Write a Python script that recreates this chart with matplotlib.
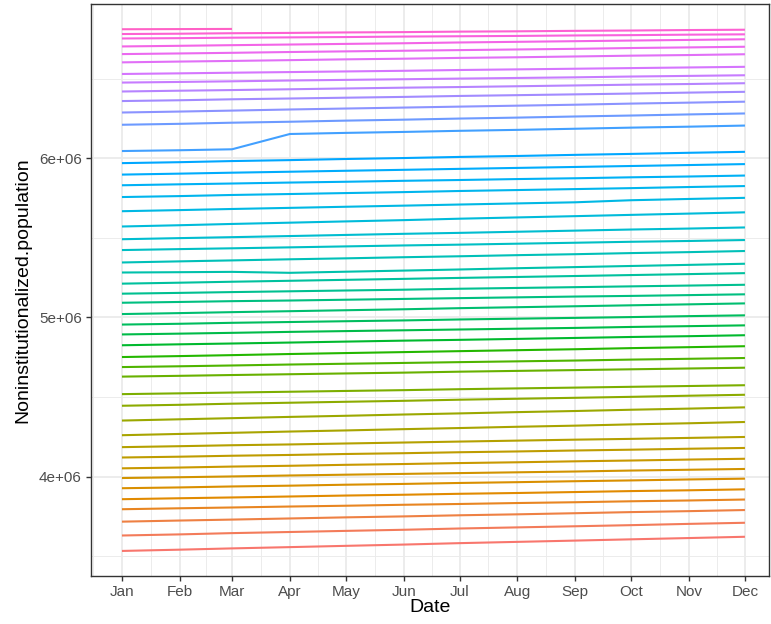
import datetime as dt
import numpy as np
import matplotlib
matplotlib.use("Agg")
import matplotlib.pyplot as plt
import matplotlib.dates as mdates
from matplotlib.ticker import FixedLocator, FuncFormatter

# Month axis (first of each month, plotted on a common non-leap year)
months = ["Jan", "Feb", "Mar", "Apr", "May", "Jun",
          "Jul", "Aug", "Sep", "Oct", "Nov", "Dec"]
years = list(range(1976, 2023))

# Noninstitutionalized population, thousands, Jan..Dec of each year
y1976 = [3533, 3541, 3549, 3557, 3565, 3573, 3582, 3590, 3598, 3606, 3614, 3622]
y1977 = [3630, 3637, 3645, 3652, 3659, 3666, 3674, 3681, 3688, 3695, 3703, 3710]
y1978 = [3717, 3724, 3730, 3737, 3744, 3750, 3757, 3763, 3770, 3777, 3783, 3790]
y1979 = [3795, 3801, 3806, 3812, 3817, 3823, 3828, 3834, 3839, 3845, 3850, 3856]
y1980 = [3858, 3864, 3869, 3875, 3881, 3886, 3892, 3897, 3903, 3909, 3914, 3920]
y1981 = [3927, 3932, 3938, 3943, 3949, 3954, 3960, 3965, 3971, 3976, 3982, 3987]
y1982 = [3991, 3996, 4001, 4007, 4012, 4017, 4022, 4027, 4032, 4038, 4043, 4048]
y1983 = [4052, 4057, 4063, 4068, 4074, 4079, 4085, 4090, 4096, 4101, 4107, 4112]
y1984 = [4120, 4125, 4131, 4136, 4142, 4147, 4153, 4158, 4164, 4169, 4175, 4180]
y1985 = [4185, 4191, 4197, 4202, 4208, 4214, 4220, 4226, 4232, 4237, 4243, 4249]
y1986 = [4260, 4268, 4275, 4283, 4290, 4298, 4305, 4313, 4320, 4328, 4335, 4343]
y1987 = [4352, 4360, 4367, 4375, 4382, 4390, 4397, 4405, 4412, 4420, 4427, 4435]
y1988 = [4445, 4451, 4458, 4464, 4470, 4476, 4483, 4489, 4495, 4501, 4508, 4514]
y1989 = [4518, 4523, 4528, 4533, 4538, 4543, 4549, 4554, 4559, 4564, 4569, 4574]
y1990 = [4628, 4633, 4638, 4643, 4648, 4653, 4659, 4664, 4669, 4674, 4679, 4684]
y1991 = [4688, 4693, 4698, 4704, 4709, 4714, 4719, 4724, 4729, 4735, 4740, 4745]
y1992 = [4751, 4757, 4763, 4770, 4776, 4782, 4788, 4794, 4800, 4807, 4813, 4819]
y1993 = [4825, 4831, 4836, 4842, 4848, 4854, 4859, 4865, 4871, 4877, 4882, 4888]
y1994 = [4893, 4898, 4903, 4909, 4914, 4919, 4924, 4929, 4934, 4940, 4945, 4950]
y1995 = [4955, 4960, 4966, 4971, 4976, 4981, 4987, 4992, 4997, 5002, 5008, 5013]
y1996 = [5021, 5027, 5033, 5039, 5045, 5051, 5058, 5064, 5070, 5076, 5082, 5088]
y1997 = [5092, 5097, 5102, 5106, 5111, 5116, 5121, 5126, 5131, 5135, 5140, 5145]
y1998 = [5149, 5154, 5159, 5164, 5169, 5174, 5180, 5185, 5190, 5195, 5200, 5205]
y1999 = [5212, 5218, 5224, 5230, 5236, 5242, 5248, 5254, 5260, 5266, 5272, 5278]
y2000 = [5282, 5284, 5286, 5280, 5287, 5294, 5301, 5309, 5316, 5323, 5330, 5337]
y2001 = [5345, 5352, 5358, 5365, 5371, 5378, 5384, 5391, 5397, 5404, 5410, 5417]
y2002 = [5423, 5429, 5434, 5440, 5446, 5452, 5457, 5463, 5469, 5475, 5480, 5486]
y2003 = [5491, 5498, 5504, 5511, 5518, 5525, 5531, 5538, 5545, 5552, 5558, 5565]
y2004 = [5571, 5579, 5587, 5595, 5603, 5611, 5620, 5628, 5636, 5644, 5652, 5660]
y2005 = [5667, 5674, 5681, 5688, 5695, 5702, 5709, 5716, 5723, 5736, 5744, 5751]
y2006 = [5756, 5762, 5769, 5775, 5781, 5787, 5794, 5800, 5806, 5812, 5819, 5825]
y2007 = [5830, 5836, 5841, 5847, 5852, 5858, 5863, 5869, 5874, 5880, 5885, 5891]
y2008 = [5897, 5903, 5909, 5915, 5921, 5927, 5933, 5939, 5945, 5951, 5957, 5963]
y2009 = [5969, 5975, 5982, 5988, 5995, 6001, 6008, 6014, 6021, 6027, 6034, 6040]
y2010 = [6045, 6050, 6056, 6152, 6159, 6165, 6172, 6178, 6185, 6192, 6198, 6205]
y2011 = [6210, 6216, 6223, 6229, 6236, 6242, 6249, 6255, 6262, 6268, 6275, 6281]
y2012 = [6287, 6293, 6299, 6306, 6312, 6318, 6324, 6330, 6336, 6343, 6349, 6355]
y2013 = [6359, 6364, 6370, 6375, 6380, 6385, 6391, 6396, 6401, 6406, 6412, 6417]
y2014 = [6419, 6424, 6428, 6433, 6438, 6443, 6447, 6452, 6457, 6462, 6466, 6471]
y2015 = [6475, 6479, 6483, 6488, 6492, 6496, 6500, 6504, 6508, 6513, 6517, 6521]
y2016 = [6529, 6533, 6537, 6541, 6545, 6549, 6554, 6558, 6562, 6566, 6570, 6574]
y2017 = [6602, 6607, 6611, 6616, 6621, 6625, 6630, 6634, 6639, 6644, 6648, 6653]
y2018 = [6654, 6658, 6662, 6667, 6671, 6675, 6679, 6683, 6687, 6692, 6696, 6700]
y2019 = [6702, 6706, 6710, 6714, 6718, 6722, 6727, 6731, 6735, 6739, 6743, 6747]
y2020 = [6752, 6754, 6757, 6759, 6761, 6764, 6766, 6768, 6771, 6773, 6776, 6778]
y2021 = [6780, 6782, 6785, 6787, 6790, 6792, 6795, 6797, 6800, 6802, 6805, 6807]
y2022 = [6810, 6811, 6812]

series = [y1976, y1977, y1978, y1979, y1980, y1981, y1982, y1983, y1984, y1985,
          y1986, y1987, y1988, y1989, y1990, y1991, y1992, y1993, y1994, y1995,
          y1996, y1997, y1998, y1999, y2000, y2001, y2002, y2003, y2004, y2005,
          y2006, y2007, y2008, y2009, y2010, y2011, y2012, y2013, y2014, y2015,
          y2016, y2017, y2018, y2019, y2020, y2021, y2022]

y_breaks = [4e6, 5e6, 6e6]
y_minor = [3.5e6, 4.5e6, 5.5e6, 6.5e6]

# number of hue steps in the discrete colour wheel
n_hues = 52


def hcl_hex(h, c=100.0, l=65.0):
    """Polar-Luv (HCL) colour to sRGB, as R's hcl()."""
    hr = np.deg2rad(h)
    u, v = c * np.cos(hr), c * np.sin(hr)
    Y = 100.0 * ((l + 16.0) / 116.0) ** 3
    up = u / (13.0 * l) + 0.1978398
    vp = v / (13.0 * l) + 0.4683363
    X = 9.0 * Y * up / (4.0 * vp)
    Z = -X / 3.0 - 5.0 * Y + 3.0 * Y / vp
    X, Y, Z = X / 100.0, Y / 100.0, Z / 100.0
    lin = (3.240479 * X - 1.537150 * Y - 0.498535 * Z,
           -0.969256 * X + 1.875992 * Y + 0.041556 * Z,
           0.055648 * X - 0.204043 * Y + 1.057311 * Z)
    out = []
    for t in lin:
        t = 1.055 * t ** (1 / 2.4) - 0.055 if t > 0.00304 else 12.92 * t
        out.append(min(1.0, max(0.0, t)))
    return tuple(out)


def hue_pal(n, h0=15.0, h1=375.0):
    hues = np.linspace(h0, h1, n + 1)[:n]
    return [hcl_hex(h) for h in hues]


colors = hue_pal(n_hues)[:len(years)]
dates = [dt.date(2021, m, 1) for m in range(1, 13)]
xnum = mdates.date2num(dates)

W, H = 771, 624
fig = plt.figure(figsize=(W / 100, H / 100), dpi=100)
fig.patch.set_facecolor("white")
left, right, top, bottom = 91, 769, 4, 575.7
ax = fig.add_axes([left / W, 1 - bottom / H, (right - left) / W, (bottom - top) / H])
ax.set_facecolor("white")

for yr, vals, col in zip(years, series, colors):
    vals = np.asarray(vals, dtype=float) * 1000.0
    ax.plot(xnum[:len(vals)], vals, color=col, lw=1.5, solid_capstyle="butt",
            zorder=3)

# ggplot-style expansion of the date range
ax.set_xlim(xnum[0] - 16.6, xnum[-1] + 12.9)
ax.set_ylim(3.3775e6, 6.9686e6)

# Minor breaks half-way between month starts
mids = [(xnum[i] + xnum[i + 1]) / 2 for i in range(len(xnum) - 1)]
mids = [xnum[0] - 15.5] + mids + [xnum[-1] + 15.5]

ax.xaxis.set_major_locator(FixedLocator(xnum))
ax.xaxis.set_minor_locator(FixedLocator(mids))
ax.set_xticklabels(months)
ax.yaxis.set_major_locator(FixedLocator(y_breaks))
ax.yaxis.set_minor_locator(FixedLocator(y_minor))
ax.yaxis.set_major_formatter(FuncFormatter(lambda v, p: "{:.0e}".format(v)))

ax.grid(which="major", color="#EBEBEB", lw=1.3, zorder=0)
ax.grid(which="minor", color="#EBEBEB", lw=0.65, zorder=0)
ax.set_axisbelow(True)

for s in ax.spines.values():
    s.set_color("#333333")
    s.set_linewidth(1.0)

ax.tick_params(which="major", length=3.6, width=1.0, color="#333333",
               labelcolor="#4D4D4D", labelsize=11, pad=3)
ax.tick_params(which="minor", length=0)
for lab in ax.get_xticklabels() + ax.get_yticklabels():
    lab.set_fontfamily("Liberation Sans")

fig.text(23 / W, 1 - 290 / H, "Noninstitutionalized.population", rotation=90,
         ha="center", va="center", fontsize=14, family="Liberation Sans",
         color="black")
fig.text((left + right) / 2 / W, 1 - 607 / H, "Date", ha="center",
         va="center", fontsize=14, family="Liberation Sans", color="black")

fig.savefig("out.png", dpi=100, facecolor="white")
